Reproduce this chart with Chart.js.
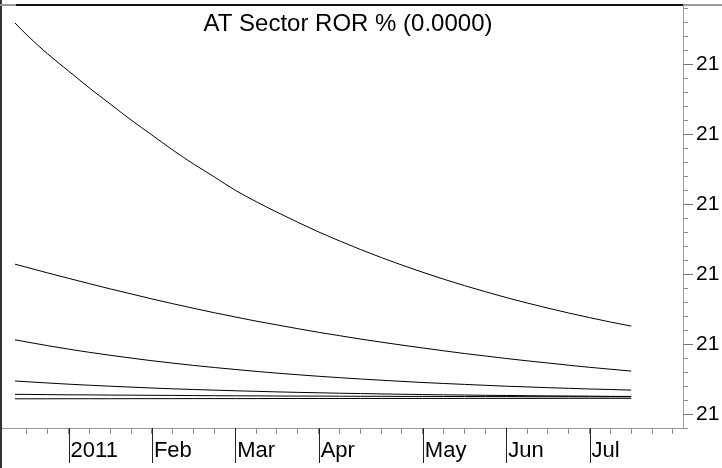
<!DOCTYPE html>
<html>
<head>
<meta charset="utf-8">
<script src="https://cdn.jsdelivr.net/npm/chart.js@4"></script>
<style>
  html, body { margin: 0; padding: 0; background: #fff; }
  #wrap { width: 722px; height: 468px; position: relative; }
</style>
</head>
<body>
<div id="wrap"><canvas id="chart"></canvas></div>
<script>
// x values are days counted from Fri 7 Jan 2011
const dataDays = [-18, -14, -7, 0, 7, 14, 21, 28, 35, 42, 49, 56, 63, 70, 77, 84, 91, 98, 105,
  112, 119, 126, 133, 140, 147, 154, 161, 168, 175, 182, 189];

const series1 = [21.05586, 21.05414, 21.05143, 21.04900, 21.04657, 21.04429, 21.04200, 21.03986,
  21.03771, 21.03571, 21.03386, 21.03196, 21.03034, 21.02883, 21.02739, 21.02601, 21.02473,
  21.02351, 21.02236, 21.02127, 21.02024, 21.01926, 21.01834, 21.01747, 21.01664, 21.01586,
  21.01513, 21.01443, 21.01377, 21.01314, 21.01256];
const series2 = [21.02140, 21.02095, 21.02015, 21.01938, 21.01862, 21.01787, 21.01716, 21.01644,
  21.01576, 21.01510, 21.01446, 21.01386, 21.01327, 21.01273, 21.01219, 21.01167, 21.01119,
  21.01071, 21.01027, 21.00984, 21.00943, 21.00903, 21.00864, 21.00829, 21.00793, 21.00760,
  21.00729, 21.00697, 21.00667, 21.00640, 21.00613];
const series3 = [21.01060, 21.01029, 21.00976, 21.00927, 21.00881, 21.00839, 21.00799, 21.00761,
  21.00727, 21.00694, 21.00664, 21.00636, 21.00609, 21.00584, 21.00561, 21.00539, 21.00519,
  21.00500, 21.00483, 21.00466, 21.00450, 21.00436, 21.00423, 21.00410, 21.00397, 21.00387,
  21.00376, 21.00367, 21.00357, 21.00350, 21.00341];
const series4 = [21.00472, 21.00461, 21.00443, 21.00426, 21.00411, 21.00397, 21.00384, 21.00371,
  21.00360, 21.00350, 21.00341, 21.00332, 21.00324, 21.00316, 21.00309, 21.00303, 21.00297,
  21.00292, 21.00287, 21.00282, 21.00278, 21.00274, 21.00271, 21.00267, 21.00265, 21.00262,
  21.00259, 21.00257, 21.00255, 21.00252, 21.00251];
const series5 = [21.00281, 21.00280, 21.00277, 21.00274, 21.00273, 21.00270, 21.00269, 21.00267,
  21.00266, 21.00263, 21.00261, 21.00260, 21.00259, 21.00257, 21.00256, 21.00256, 21.00254,
  21.00253, 21.00253, 21.00251, 21.00251, 21.00250, 21.00250, 21.00249, 21.00249, 21.00247,
  21.00247, 21.00247, 21.00246, 21.00246, 21.00246];
const series6 = [21.00217, 21.00217, 21.00217, 21.00218, 21.00218, 21.00218, 21.00219, 21.00219,
  21.00219, 21.00220, 21.00220, 21.00220, 21.00220, 21.00221, 21.00221, 21.00221, 21.00221,
  21.00222, 21.00222, 21.00222, 21.00222, 21.00222, 21.00223, 21.00223, 21.00223, 21.00223,
  21.00223, 21.00224, 21.00224, 21.00224, 21.00224];

// axis ticks
const xWeekTicks = [-14, -7, 0, 7, 14, 21, 28, 35, 42, 49, 56, 63, 70, 77, 84, 91, 98, 105, 112,
  119, 126, 133, 140, 147, 154, 161, 168, 175, 182, 189, 196, 203];
const monthTickDays = [0, 28, 56, 84, 119, 147, 175];
const monthLabels = ['2011', 'Feb', 'Mar', 'Apr', 'May', 'Jun', 'Jul'];
const yTicks = [20.998, 21.000, 21.002, 21.004, 21.006, 21.008, 21.010, 21.012, 21.014, 21.016,
  21.018, 21.020, 21.022, 21.024, 21.026, 21.028, 21.030, 21.032, 21.034, 21.036, 21.038, 21.040,
  21.042, 21.044, 21.046, 21.048, 21.050, 21.052, 21.054, 21.056, 21.058];
const yMajorTicks = [21.00, 21.01, 21.02, 21.03, 21.04, 21.05];
const chartTitle = 'AT Sector ROR % (0.0000)';

const allSeries = [series1, series2, series3, series4, series5, series6];
const isMajorY = v => yMajorTicks.some(m => Math.abs(m - v) < 1e-7);

Chart.defaults.font.family = '"Liberation Sans", Arial, sans-serif';
Chart.defaults.color = '#000';

const decor = {
  id: 'decor',
  afterDraw(chart) {
    const ctx = chart.ctx;
    const x = chart.scales.x, y = chart.scales.y;
    const a = chart.chartArea;
    ctx.save();
    // frame
    ctx.lineWidth = 2;
    ctx.strokeStyle = '#333';
    ctx.beginPath(); ctx.moveTo(1, 0); ctx.lineTo(1, 468); ctx.stroke();
    ctx.strokeStyle = '#999';
    ctx.beginPath(); ctx.moveTo(0, a.top); ctx.lineTo(16, a.top); ctx.stroke();
    ctx.beginPath(); ctx.moveTo(a.right, a.top); ctx.lineTo(chart.width, a.top); ctx.stroke();
    ctx.strokeStyle = '#111';
    ctx.beginPath(); ctx.moveTo(16, a.top); ctx.lineTo(a.right, a.top); ctx.stroke();
    // long month marks
    ctx.lineWidth = 1;
    ctx.strokeStyle = '#222';
    monthTickDays.forEach(d => {
      const px = Math.round(x.getPixelForValue(d)) + 0.5;
      ctx.beginPath(); ctx.moveTo(px, a.bottom); ctx.lineTo(px, a.bottom + 35); ctx.stroke();
    });
    // longer major marks on the value axis
    ctx.strokeStyle = '#777';
    yMajorTicks.forEach(v => {
      const py = Math.round(y.getPixelForValue(v)) + 0.5;
      ctx.beginPath(); ctx.moveTo(a.right, py); ctx.lineTo(a.right + 10, py); ctx.stroke();
    });
    // title inside the plot
    ctx.fillStyle = '#000';
    ctx.font = '24px "Liberation Sans", Arial, sans-serif';
    ctx.textAlign = 'center';
    ctx.textBaseline = 'alphabetic';
    ctx.fillText(chartTitle, 348, 31);
    ctx.restore();
  }
};

new Chart(document.getElementById('chart'), {
  type: 'line',
  data: {
    datasets: allSeries.map((s, i) => ({
      label: 'Series ' + (i + 1),
      data: dataDays.map((d, j) => ({ x: d, y: s[j] })),
      borderColor: '#000',
      borderWidth: 1,
      pointRadius: 0,
      cubicInterpolationMode: 'monotone',
      fill: false
    }))
  },
  options: {
    responsive: true,
    maintainAspectRatio: false,
    animation: false,
    layout: { padding: { left: 1, top: 5, right: 0, bottom: 0 } },
    plugins: { legend: { display: false }, tooltip: { enabled: false }, title: { display: false } },
    scales: {
      x: {
        type: 'linear',
        position: 'bottom',
        min: -22.7,
        max: 206.4,
        afterBuildTicks: s => { s.ticks = xWeekTicks.map(v => ({ value: v })); },
        afterFit: s => { s.height = 40; s.paddingLeft = 0; s.paddingRight = 0; },
        grid: { drawOnChartArea: false, tickLength: 6, color: '#888', lineWidth: 1 },
        border: { display: true, color: '#999', width: 1 },
        ticks: {
          autoSkip: false,
          maxRotation: 0,
          minRotation: 0,
          align: 'start',
          labelOffset: 2,
          padding: 4,
          font: { size: 22 },
          callback: v => {
            const k = monthTickDays.indexOf(v);
            return k >= 0 ? monthLabels[k] : '';
          }
        }
      },
      y: {
        position: 'right',
        min: 20.998,
        max: 21.058429,
        afterBuildTicks: s => { s.ticks = yTicks.map(v => ({ value: v })); },
        afterFit: s => { s.width = 39; s.paddingTop = 0; s.paddingBottom = 0; },
        grid: { drawOnChartArea: false, tickLength: 5, color: '#888', lineWidth: 1 },
        border: { display: true, color: '#999', width: 1 },
        ticks: {
          autoSkip: false,
          padding: 8,
          font: { size: 21 },
          callback: v => isMajorY(v) ? v.toFixed(0) : ''
        }
      }
    }
  },
  plugins: [decor]
});
</script>
</body>
</html>
